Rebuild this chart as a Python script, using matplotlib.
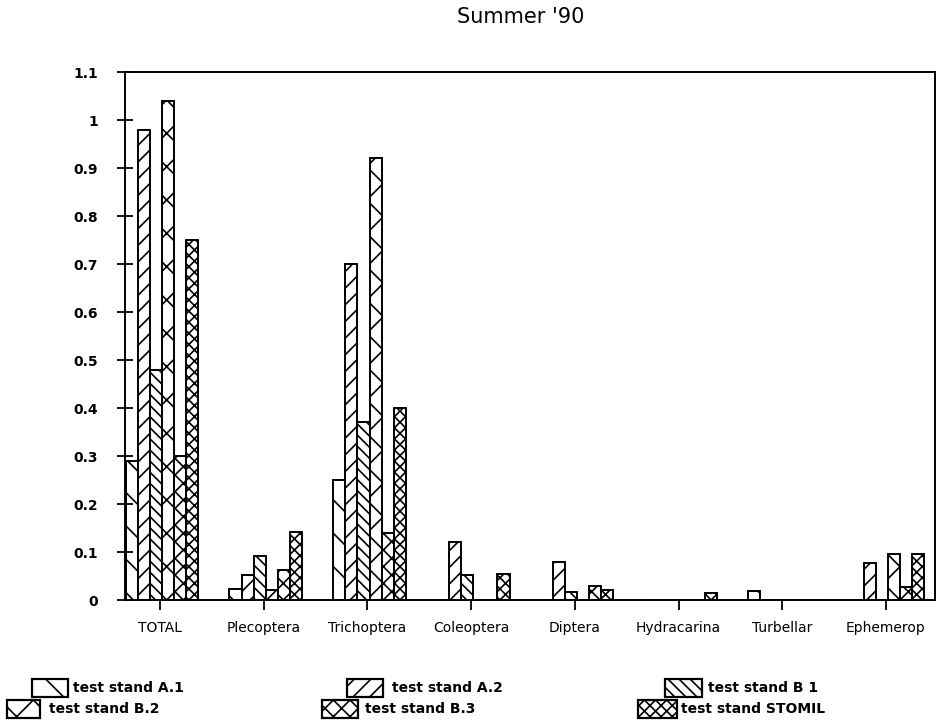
import matplotlib
matplotlib.use("Agg")
import matplotlib.pyplot as plt
from matplotlib.patches import Rectangle
import numpy as np

plt.rcParams['font.family'] = ['DejaVu Sans']
plt.rcParams['hatch.linewidth'] = 1.2

categories = ["TOTAL", "Plecoptera", "Trichoptera", "Coleoptera", "Diptera",
              "Hydracarina", "Turbellar", "Ephemerop"]
series_names = ["test stand A.1", "test stand A.2", "test stand B 1",
                "test stand B.2", "test stand B.3", "test stand STOMIL"]
a1 = [0.29, 0.023, 0.25, 0.0, 0.0, 0.0, 0.018, 0.0]
a2 = [0.98, 0.053, 0.70, 0.12, 0.08, 0.0, 0.0, 0.077]
b1 = [0.48, 0.092, 0.37, 0.052, 0.017, 0.0, 0.0, 0.0]
b2 = [1.04, 0.02, 0.92, 0.0, 0.0, 0.0, 0.0, 0.096]
b3 = [0.30, 0.062, 0.14, 0.0, 0.029, 0.0, 0.0, 0.027]
stomil = [0.75, 0.142, 0.40, 0.055, 0.02, 0.015, 0.0, 0.096]
series = [a1, a2, b1, b2, b3, stomil]
hatches = ['\\', '//', '\\\\\\', 'x', 'xx', 'xxx']
ytick_vals = [0, 0.1, 0.2, 0.3, 0.4, 0.5, 0.6, 0.7, 0.8, 0.9, 1.0, 1.1]
ytick_labels = ["0", "0.1", "0.2", "0.3", "0.4", "0.5", "0.6", "0.7", "0.8", "0.9", "1", "1.1"]

W, H = 938, 721
fig = plt.figure(figsize=(W / 100, H / 100), dpi=100)
ax = fig.add_axes([125 / W, 1 - 600 / H, 810 / W, 528 / H])

x = np.arange(len(categories))
bw = 0.117
for i, (vals, h) in enumerate(zip(series, hatches)):
    ax.bar(x + (i - 2.5) * bw + 0.02, vals, width=bw, facecolor='white',
           edgecolor='black', linewidth=1.4, hatch=h)

ax.set_xlim(-0.3375, 7.4725)
ax.set_ylim(0, 1.1)
ax.set_yticks(ytick_vals)
ax.set_yticklabels(ytick_labels, fontsize=10, fontweight='bold')
ax.set_xticks(x)
ax.set_xticklabels(categories, fontsize=10)
ax.tick_params(axis='y', direction='inout', length=11, width=1.3, pad=14)
ax.tick_params(axis='x', direction='out', length=7, width=1.3, pad=8)
for s in ax.spines.values():
    s.set_linewidth(1.4)

fig.text(521 / W, 1 - 17 / H, "Summer '90", ha='center', va='center',
         fontsize=15)

# legend drawn manually: (icon x0, icon x1, text x, y center)
leg_pos = [(32, 68, 73, 688), (347, 383, 392, 688), (665, 702, 708, 688),
           (7, 40, 49, 709), (322, 358, 365, 709), (638, 677, 681, 709)]
for (x0, x1, tx, yc), name, h in zip(leg_pos, series_names, hatches):
    r = Rectangle((x0 / W, 1 - (yc + 9) / H), (x1 - x0) / W, 18 / H,
                  transform=fig.transFigure, facecolor='white',
                  edgecolor='black', linewidth=1.6, hatch=h)
    fig.add_artist(r)
    fig.text(tx / W, 1 - yc / H, name, ha='left', va='center',
             fontsize=10, fontweight='bold')

fig.savefig("out.png", dpi=100)
